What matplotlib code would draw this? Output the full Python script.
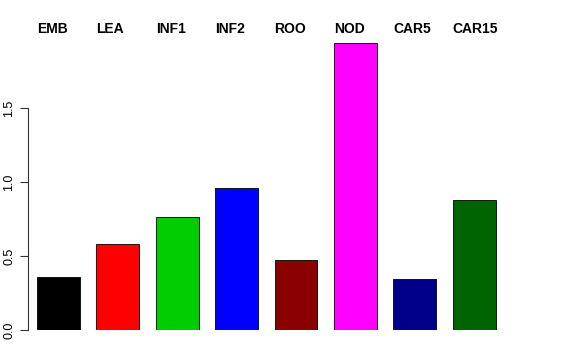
import numpy as np
import matplotlib
matplotlib.use("Agg")
import matplotlib.pyplot as plt

plt.rcParams["font.family"] = ["Liberation Sans", "DejaVu Sans"]

# tissue labels and values
labels = ["EMB", "LEA", "INF1", "INF2", "ROO", "NOD", "CAR5", "CAR15"]
values = [0.36, 0.58, 0.765, 0.96, 0.47, 1.94, 0.345, 0.875]
colors = ["#000000", "#FF0000", "#00CD00", "#0000FF",
          "#8B0000", "#FF00FF", "#00008B", "#006400"]

W, H = 576, 360
fig = plt.figure(figsize=(W / 100, H / 100), dpi=100)
# plot region in pixels: left 28, right 514, bottom 330, top ~31
ax = fig.add_axes([28 / W, 30 / H, (514 - 28) / W, (330 - 31) / H])

x = np.arange(len(labels))
bw = 0.72
ax.bar(x, values, width=bw, color=colors, edgecolor="black", linewidth=0.6)

ax.set_xlim(-0.51, 7.67)
ax.set_ylim(0, 2.02)

for s in ["top", "right", "bottom"]:
    ax.spines[s].set_visible(False)
ax.spines["left"].set_bounds(0, 1.5)
ax.spines["left"].set_color("#333333")
ax.set_xticks([])
ax.set_yticks([0, 0.5, 1.0, 1.5])
ax.set_yticklabels(["0.0", "0.5", "1.0", "1.5"], rotation=90, va="center", fontsize=9)
ax.tick_params(axis="y", length=6, width=0.8, color="#333333", pad=3)

# tissue names above the bars, roughly left-aligned with each bar
for xi, lab in zip(x, labels):
    ax.text(xi - bw / 2, 2.035, lab, ha="left", va="center", fontsize=10,
            fontweight="bold", clip_on=False)

fig.savefig("out.png", dpi=100)
